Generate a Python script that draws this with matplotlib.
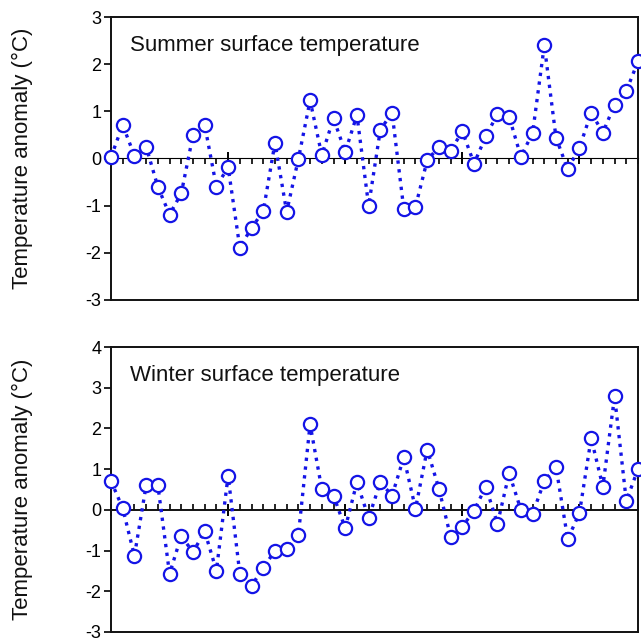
import matplotlib
matplotlib.use("Agg")
import matplotlib.pyplot as plt
from matplotlib.ticker import MultipleLocator, NullFormatter, NullLocator

plt.rcParams['font.family'] = ['Liberation Sans', 'DejaVu Sans']
plt.rcParams['axes.unicode_minus'] = False

years = list(range(1960, 2006))

summer = [0.03, 0.71, 0.06, 0.25, -0.60, -1.19, -0.74, 0.49, 0.71, -0.60,
          -0.18, -1.89, -1.47, -1.12, 0.33, -1.13, -0.01, 1.23, 0.07, 0.85,
          0.14, 0.92, -1.00, 0.61, 0.97, -1.07, -1.02, -0.04, 0.25, 0.16,
          0.58, -0.11, 0.47, 0.94, 0.88, 0.04, 0.54, 2.40, 0.44, -0.23,
          0.23, 0.97, 0.55, 1.14, 1.43, 2.06]

winter = [0.71, 0.04, -1.13, 0.60, 0.60, -1.57, -0.64, -1.04, -0.53, -1.49,
          0.84, -1.57, -1.86, -1.43, -1.00, -0.97, -0.61, 2.10, 0.51, 0.35,
          -0.45, 0.68, -0.20, 0.68, 0.35, 1.29, 0.03, 1.48, 0.52, -0.66,
          -0.41, -0.02, 0.57, -0.34, 0.90, 0.00, -0.10, 0.71, 1.05, -0.72,
          -0.08, 1.76, 0.57, 2.79, 0.22, 1.00]

panels = [
    (summer, "Summer surface temperature", (-3, 3)),
    (winter, "Winter surface temperature", (-3, 4)),
]

W, H = 641, 638
fig = plt.figure(figsize=(W / 100, H / 100), dpi=100)

boxes = [(111, 17, 638, 300), (111, 347, 638, 632)]
blue = '#1414e6'

for (vals, title, ylim), (x0, y0, x1, y1) in zip(panels, boxes):
    ax = fig.add_axes([x0 / W, 1 - y1 / H, (x1 - x0) / W, (y1 - y0) / H])
    ax.plot(years, vals, linestyle=':', color=blue, lw=2.4, marker='o',
            markersize=9.5, markerfacecolor='white', markeredgecolor=blue,
            markeredgewidth=1.6, clip_on=False, zorder=5)
    ax.set_xlim(years[0], years[-1])
    ax.set_ylim(*ylim)
    ax.yaxis.set_major_locator(MultipleLocator(1))
    ax.tick_params(axis='y', direction='out', length=5, width=1.2, pad=2,
                   labelsize=13)
    ax.xaxis.set_major_locator(NullLocator())
    ax.xaxis.set_minor_locator(NullLocator())
    for s in ax.spines.values():
        s.set_linewidth(1.4)
        s.set_color('#111111')
    zero_frac = (0 - ylim[0]) / (ylim[1] - ylim[0])
    sec = ax.secondary_xaxis(zero_frac)
    sec.spines['bottom'].set_linewidth(1.4)
    sec.spines['bottom'].set_color('#111111')
    sec.xaxis.set_major_locator(MultipleLocator(10))
    sec.xaxis.set_minor_locator(MultipleLocator(1))
    sec.xaxis.set_major_formatter(NullFormatter())
    sec.tick_params(axis='x', which='major', direction='inout', length=9,
                    width=1.4)
    sec.tick_params(axis='x', which='minor', direction='in', length=4.5,
                    width=1.2)
    ax.text(0.036, 0.90, title, transform=ax.transAxes, fontsize=16,
            ha='left', va='center', color='#111111')
    ax.set_ylabel("Temperature anomaly (°C)", fontsize=16, color='#111111')
    ax.yaxis.set_label_coords(-0.148, 0.5)

fig.savefig("out.png", dpi=100)
